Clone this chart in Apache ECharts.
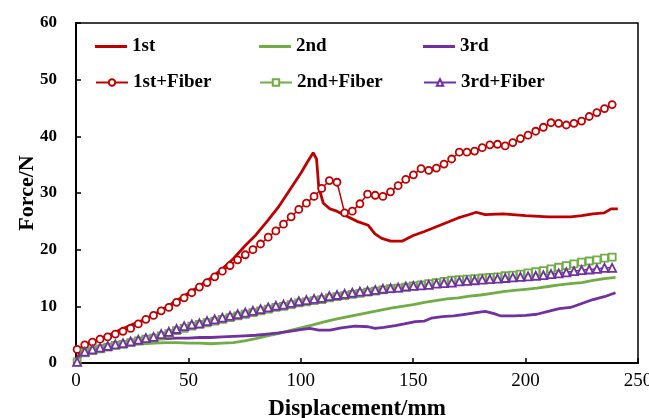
<!DOCTYPE html>
<html>
<head>
<meta charset="utf-8">
<script src="https://cdn.jsdelivr.net/npm/echarts@6/dist/echarts.min.js"></script>
<style>html,body{margin:0;padding:0;background:#fff;}#c{width:649px;height:418px;}</style>
</head>
<body>
<div id="c"></div>
<script>
// ---- data ----
const seriesNames = ['1st', '2nd', '3rd', '1st+Fiber', '2nd+Fiber', '3rd+Fiber'];
const xTicks = [0, 50, 100, 150, 200, 250];
const yTicks = [0, 10, 20, 30, 40, 50, 60];

const firstX = [0.5, 2, 5, 10, 15, 20, 25, 30, 35, 40, 45, 50, 55, 60, 65, 70, 75, 80, 85, 90, 95, 100, 103, 105.5, 107, 108, 110, 113, 116, 120, 125, 130, 133, 136, 140, 145, 150, 155, 160, 165, 170, 175, 178, 182, 190, 200, 210, 220, 225, 230, 235, 238, 241];
const firstY = [0.8, 2.0, 3.3, 4.2, 5.0, 5.9, 6.8, 7.6, 8.6, 9.8, 11.1, 12.3, 13.6, 15.0, 16.6, 18.4, 20.6, 22.6, 25.0, 27.5, 30.5, 33.5, 35.5, 37.1, 36.0, 31.0, 28.2, 27.2, 26.8, 26.0, 25.0, 24.3, 22.8, 22.0, 21.5, 21.5, 22.5, 23.2, 24.0, 24.8, 25.6, 26.2, 26.6, 26.2, 26.3, 26.0, 25.8, 25.8, 26.0, 26.3, 26.5, 27.2, 27.2];

const secondX = [0.5, 2, 5, 10, 15, 20, 25, 30, 35, 40, 45, 50, 55, 60, 65, 70, 75, 80, 85, 90, 95, 100, 105, 110, 115, 120, 125, 130, 135, 140, 145, 150, 155, 160, 165, 170, 175, 180, 185, 190, 195, 200, 205, 210, 215, 220, 225, 230, 235, 240];
const secondY = [0.3, 1.5, 2.2, 2.7, 3.0, 3.2, 3.3, 3.4, 3.5, 3.6, 3.6, 3.5, 3.5, 3.4, 3.5, 3.6, 3.9, 4.3, 4.8, 5.2, 5.7, 6.2, 6.7, 7.2, 7.7, 8.1, 8.5, 8.9, 9.3, 9.7, 10.0, 10.3, 10.7, 11.0, 11.3, 11.5, 11.8, 12.0, 12.3, 12.6, 12.8, 13.0, 13.2, 13.5, 13.8, 14.0, 14.2, 14.6, 14.9, 15.1];

const thirdX = [0.5, 2, 5, 10, 15, 20, 25, 30, 35, 40, 45, 50, 55, 60, 65, 70, 75, 80, 85, 90, 95, 100, 104, 108, 113, 118, 124, 130, 133, 137, 142, 146, 151, 155, 158, 163, 168, 173, 178, 182, 186, 189, 195, 200, 205, 210, 215, 220, 225, 230, 235, 240];
const thirdY = [0.3, 1.6, 2.3, 2.9, 3.3, 3.6, 3.8, 4.0, 4.2, 4.3, 4.4, 4.4, 4.5, 4.5, 4.6, 4.7, 4.8, 4.9, 5.1, 5.3, 5.6, 5.9, 6.1, 5.8, 5.8, 6.2, 6.5, 6.4, 6.1, 6.3, 6.6, 6.9, 7.3, 7.4, 7.9, 8.2, 8.3, 8.6, 8.9, 9.1, 8.7, 8.3, 8.3, 8.4, 8.6, 9.1, 9.6, 9.8, 10.5, 11.2, 11.7, 12.4];

const fiberX = [0.5, 3.9, 7.3, 10.7, 14.1, 17.5, 20.9, 24.3, 27.7, 31.1, 34.5, 37.9, 41.3, 44.7, 48.1, 51.5, 54.9, 58.3, 61.7, 65.1, 68.5, 71.9, 75.3, 78.7, 82.1, 85.5, 88.9, 92.3, 95.7, 99.1, 102.5, 105.9, 109.3, 112.7, 116.1, 119.5, 122.9, 126.3, 129.7, 133.1, 136.5, 139.9, 143.3, 146.7, 150.1, 153.5, 156.9, 160.3, 163.7, 167.1, 170.5, 173.9, 177.3, 180.7, 184.1, 187.5, 190.9, 194.3, 197.7, 201.1, 204.5, 207.9, 211.3, 214.7, 218.1, 221.5, 224.9, 228.3, 231.7, 235.1, 238.5];

const fiber1Y = [2.4, 3.2, 3.7, 4.2, 4.6, 5.1, 5.6, 6.1, 6.9, 7.7, 8.4, 9.2, 9.8, 10.7, 11.5, 12.4, 13.4, 14.2, 15.2, 16.2, 17.2, 18.2, 19.1, 20.0, 21.0, 22.2, 23.3, 24.5, 25.8, 27.1, 28.2, 29.4, 30.8, 32.2, 31.9, 26.5, 26.8, 28.1, 29.8, 29.6, 29.4, 30.2, 31.3, 32.4, 33.2, 34.3, 34.0, 34.4, 35.1, 36.0, 37.2, 37.2, 37.4, 38.0, 38.5, 38.6, 38.3, 38.9, 39.6, 40.2, 40.9, 41.6, 42.4, 42.3, 42.0, 42.3, 42.7, 43.5, 44.2, 44.9, 45.6];

const fiber2Y = [0.2, 1.8, 2.2, 2.5, 2.8, 3.1, 3.3, 3.6, 3.9, 4.2, 4.4, 4.8, 5.2, 5.7, 6.1, 6.5, 6.8, 7.1, 7.4, 7.7, 8.0, 8.3, 8.6, 8.9, 9.2, 9.5, 9.8, 10.0, 10.3, 10.6, 10.8, 11.0, 11.2, 11.5, 11.7, 11.9, 12.1, 12.3, 12.5, 12.7, 12.9, 13.1, 13.2, 13.4, 13.6, 13.8, 14.0, 14.2, 14.4, 14.6, 14.7, 14.8, 14.9, 15.0, 15.1, 15.2, 15.4, 15.5, 15.7, 15.9, 16.1, 16.3, 16.6, 16.9, 17.2, 17.5, 17.8, 18.0, 18.2, 18.5, 18.7];

const fiber3Y = [0.2, 2.0, 2.4, 2.7, 3.0, 3.3, 3.5, 3.8, 4.1, 4.4, 4.6, 5.1, 5.5, 6.0, 6.5, 6.8, 7.0, 7.4, 7.7, 8.0, 8.3, 8.6, 8.9, 9.2, 9.5, 9.8, 10.1, 10.3, 10.6, 10.9, 11.1, 11.3, 11.5, 11.8, 12.0, 12.2, 12.4, 12.6, 12.7, 12.9, 13.1, 13.2, 13.3, 13.5, 13.6, 13.7, 13.8, 14.0, 14.1, 14.2, 14.4, 14.5, 14.6, 14.7, 14.8, 14.9, 15.0, 15.1, 15.2, 15.3, 15.4, 15.5, 15.7, 15.8, 16.0, 16.2, 16.4, 16.5, 16.6, 16.8, 16.8];

// ---- chart ----
const RED = '#C00000', GREEN = '#70AD47', PURPLE = '#7030A0';
const FONT = '"Liberation Serif", "Times New Roman", serif';
const pairs = (xs, ys) => xs.map((x, i) => [x, ys[i]]);

const chart = echarts.init(document.getElementById('c'), null, {renderer: 'canvas'});

const legendText = {fontFamily: FONT, fontWeight: 'bold', fontSize: 19, color: '#000'};
const legendPos = [[95, 37], [259, 37], [423, 37], [95, 73], [259, 73], [423, 73]];
const legends = legendPos.map((p, i) => {
  const isSolid = i < 3;
  return {
    orient: 'horizontal', left: p[0], top: p[1], padding: 0,
    itemWidth: 32, itemHeight: isSolid ? 3 : 8, itemGap: 0,
    selectedMode: false, textStyle: legendText,
    data: [isSolid ? {name: seriesNames[i], icon: 'rect'} : seriesNames[i]]
  };
});

const solid = (name, xs, ys, color) => ({
  name, type: 'line', data: pairs(xs, ys), showSymbol: false, symbol: 'none',
  lineStyle: {color, width: 2.8}, itemStyle: {color}, animation: false
});
const fiber = (name, ys, color, symbol, size) => ({
  name, type: 'line', data: pairs(fiberX, ys), symbol, symbolSize: size, showSymbol: true,
  lineStyle: {color, width: 1.5},
  itemStyle: {color: '#fff', borderColor: color, borderWidth: 1.8}, animation: false
});

chart.setOption({
  backgroundColor: '#fff',
  animation: false,
  grid: {left: 76, right: 11, top: 23, bottom: 55, containLabel: false, outerBoundsMode: 'none',
         show: true, borderColor: '#000', borderWidth: 1.5, backgroundColor: 'transparent'},
  legend: legends,
  xAxis: {
    type: 'value', min: xTicks[0], max: xTicks[xTicks.length - 1], interval: 50,
    name: 'Displacement/mm', nameLocation: 'middle', nameGap: 35, nameMoveOverlap: false,
    nameTextStyle: {fontFamily: FONT, fontWeight: 'bold', fontSize: 23, color: '#000'},
    axisLine: {show: true, lineStyle: {color: '#000', width: 2}},
    axisTick: {show: true, inside: true, length: 5, lineStyle: {color: '#000', width: 1.5}},
    axisLabel: {fontFamily: FONT, fontSize: 19, color: '#000', margin: 9},
    splitLine: {show: false}
  },
  yAxis: {
    type: 'value', min: yTicks[0], max: yTicks[yTicks.length - 1], interval: 10,
    name: 'Force/N', nameLocation: 'middle', nameGap: 38, nameMoveOverlap: false,
    nameTextStyle: {fontFamily: FONT, fontWeight: 'bold', fontSize: 22, color: '#000'},
    axisLine: {show: true, lineStyle: {color: '#000', width: 2}},
    axisTick: {show: true, inside: true, length: 5, lineStyle: {color: '#000', width: 1.5}},
    axisLabel: {fontFamily: FONT, fontSize: 17, fontWeight: 'bold', color: '#000', margin: 19},
    splitLine: {show: false}
  },
  series: [
    solid(seriesNames[0], firstX, firstY, RED),
    solid(seriesNames[1], secondX, secondY, GREEN),
    solid(seriesNames[2], thirdX, thirdY, PURPLE),
    fiber(seriesNames[3], fiber1Y, RED, 'circle', 7),
    fiber(seriesNames[4], fiber2Y, GREEN, 'rect', 7),
    fiber(seriesNames[5], fiber3Y, PURPLE, 'triangle', 8)
  ]
});
</script>
</body>
</html>
